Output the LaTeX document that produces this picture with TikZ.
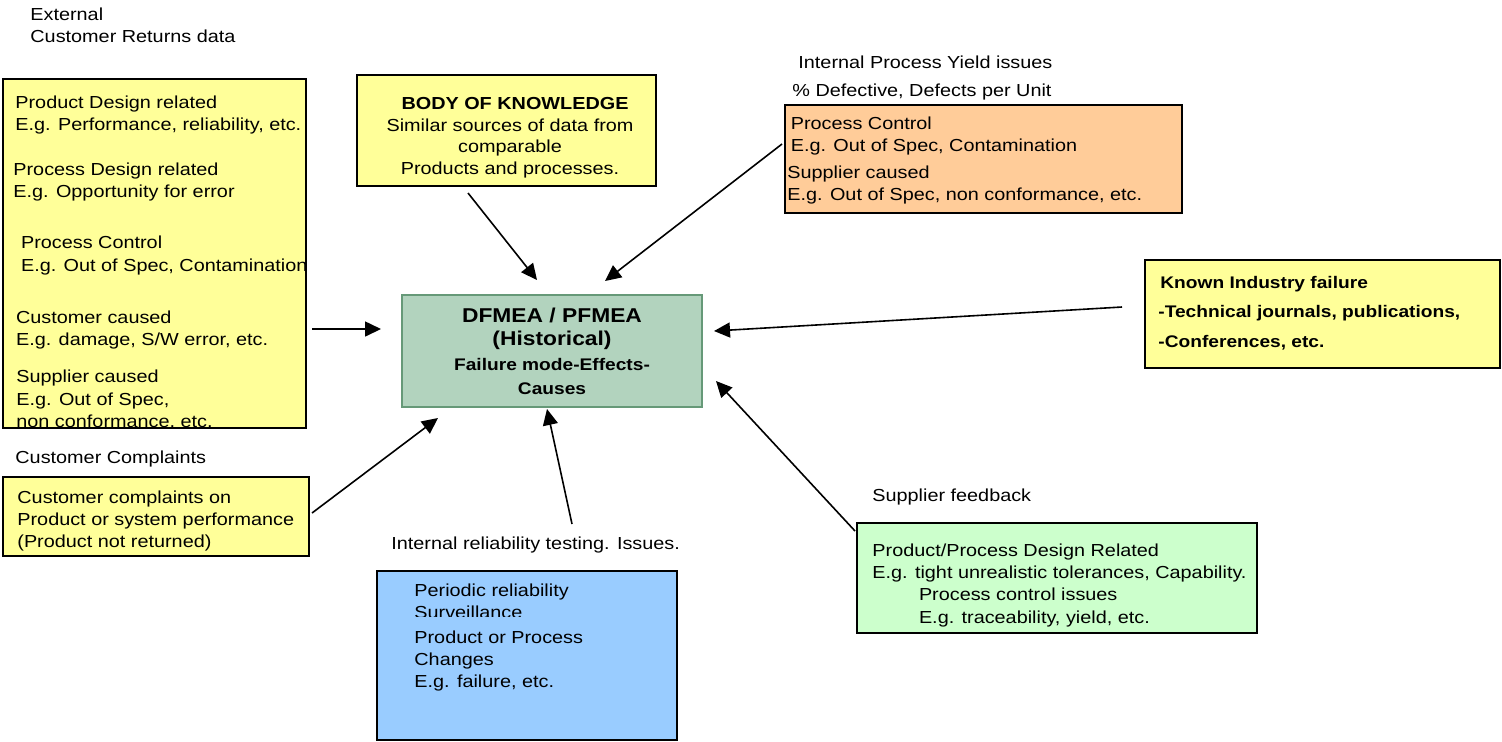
\documentclass[tikz,border=0pt]{standalone}
\usepackage{fontspec}
\setmainfont{Liberation Sans}[FakeStretch=1.14]
\usepackage{tikz}
\usetikzlibrary{calc,arrows.meta}
\definecolor{srcyellow}{RGB}{255,255,153}
\definecolor{srcorange}{RGB}{255,204,153}
\definecolor{srcblue}{RGB}{153,204,255}
\definecolor{srcgreen}{RGB}{204,255,204}
\definecolor{histfill}{RGB}{178,211,190}
\definecolor{histdraw}{RGB}{102,153,120}

\begin{document}
\begin{tikzpicture}[x=0.5pt, y=-0.5pt, srcbox/.style={draw=black, line width=1pt, inner sep=0pt, outer sep=0pt, anchor=north west}, txt/.style={inner sep=0pt, anchor=north west, align=left, font=\fontsize{8.7}{11.2}\selectfont}, feed/.style={-{Triangle[length=8pt,width=7.5pt]}, line width=0.8pt}]
\useasboundingbox (0,0) rectangle (1502,741);
% boxes
\node[srcbox, fill=srcyellow, minimum width=151.5pt, minimum height=174.5pt] (returns) at (3,79) {};
\node[srcbox, fill=srcyellow, minimum width=149.5pt, minimum height=55.5pt] (bok) at (357,75) {};
\node[srcbox, fill=srcorange, minimum width=198.5pt, minimum height=54pt] (yield) at (785,105) {};
\node[srcbox, fill=srcyellow, minimum width=177.5pt, minimum height=54pt] (industry) at (1145,260) {};
\node[srcbox, draw=histdraw, fill=histfill, minimum width=150pt, minimum height=56pt] (hist) at (402,295) {};
\node[srcbox, fill=srcyellow, minimum width=153pt, minimum height=39.5pt] (complaints) at (3,477) {};
\node[srcbox, fill=srcblue, minimum width=150pt, minimum height=84.5pt] (testing) at (377,571) {};
\node[srcbox, fill=srcgreen, minimum width=200pt, minimum height=55pt] (supplier) at (857,523) {};
% texts
\node[txt] (ext-lbl) at (30,7) {External\\Customer Returns data};
\begin{scope}
\clip (3,79) rectangle (306,428);
\node[txt] (returns-txt) at (13,95) {\hspace*{1pt}Product Design related\\\hspace*{1pt}E.g. Performance, reliability, etc.\\[11.3pt]
Process Design related\\E.g. Opportunity for error\\[14.3pt]
\hspace*{3.85pt}Process Control\\\hspace*{3.85pt}E.g. Out of Spec, Contamination\\[14.8pt]
\hspace*{1.35pt}Customer caused\\\hspace*{1.35pt}E.g. damage, S/W error, etc.\\[7.3pt]
\hspace*{1.5pt}Supplier caused\\\hspace*{1.5pt}E.g. Out of Spec,\\\hspace*{1.5pt}non conformance, etc.};
\end{scope}
\node[txt, anchor=north, align=center, font=\fontsize{8.7}{10.85}\selectfont] (bok-txt) at (510,97) {\hspace*{5pt}\textbf{BODY OF KNOWLEDGE}\\Similar sources of data from\\comparable\\Products and processes.};
\node[txt] (yield-lbl) at (798,55) {Internal Process Yield issues};
\node[txt] (defect-lbl) at (792,83) {\% Defective, Defects per Unit};
\node[txt] (yield-txt) at (787,116) {\hspace*{1.7pt}Process Control\\\hspace*{1.7pt}E.g. Out of Spec, Contamination\\[2.1pt]Supplier caused\\E.g. Out of Spec, non conformance, etc.};
\node[txt, font=\fontsize{8.4}{14.7}\selectfont\bfseries] (industry-txt) at (1158,276) {\hspace*{1pt}Known Industry failure\\-Technical journals, publications,\\-Conferences, etc.};
\node[txt, anchor=north, align=center, font=\fontsize{10}{11.35}\selectfont\bfseries] (hist-txt) at (552,308) {DFMEA / PFMEA\\(Historical)\\[1pt]{\fontsize{8.4}{10}\selectfont Failure mode-Effects-}\\[0.8pt]{\fontsize{8.4}{10}\selectfont Causes}};
\node[txt] (compl-lbl) at (15,450) {Customer Complaints};
\node[txt] (complaints-txt) at (17,490) {Customer complaints on\\Product or system performance\\(Product not returned)};
\node[txt] (test-lbl) at (391,536) {Internal reliability testing. Issues.};
\begin{scope}
\clip (377,571) rectangle (677,616.5);
\node[txt] (survey-txt) at (414,583) {Periodic reliability\\Surveillance};
\end{scope}
\node[txt] (change-txt) at (414,630) {Product or Process\\Changes\\E.g. failure, etc.};
\node[txt] (supp-lbl) at (872,488) {Supplier feedback};
\node[txt] (supplier-txt) at (872,543) {Product/Process Design Related\\E.g. tight unrealistic tolerances, Capability.\\\hspace*{23.3pt}Process control issues\\\hspace*{23.3pt}E.g. traceability, yield, etc.};
% arrows into the historical box
\draw[feed] ($(returns.south east)+(6,-99)$) -- ($(hist.north west)+(-21,34)$);
\draw[feed] ($(bok.south west)+(111,7)$) -- ($(hist.north west)+(135,-15)$);
\draw[feed] ($(yield.north west)+(-3,39)$) -- ($(hist.north west)+(203,-14)$);
\draw[feed] ($(industry.north west)+(-23,47)$) -- ($(hist.north east)+(12,36)$);
\draw[feed] ($(complaints.north east)+(3,36)$) -- ($(hist.south west)+(36,11)$);
\draw[feed] ($(test-lbl.north west)+(181,-12)$) -- ($(hist.south west)+(145,2)$);
\draw[feed] ($(supplier.north west)+(-2,8)$) -- ($(hist.south east)+(14,-26)$);
\end{tikzpicture}
\end{document}
